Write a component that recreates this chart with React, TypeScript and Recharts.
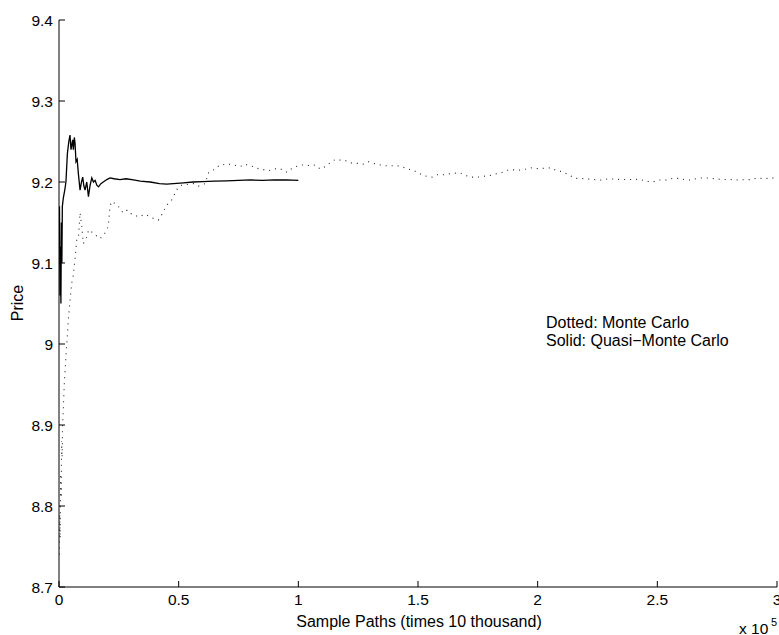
import { LineChart, Line, XAxis, YAxis } from "recharts";

// Monte Carlo estimate (dotted), x in units of 1e5 sample paths
const mcX = [
  0.001, 0.003, 0.005, 0.007, 0.009, 0.011, 0.013, 0.015, 0.018, 0.022, 0.026, 0.03, 0.035, 0.039, 0.045,
  0.053, 0.06, 0.067, 0.074, 0.081, 0.088, 0.095, 0.102, 0.109, 0.116, 0.123, 0.13, 0.14, 0.151, 0.162,
  0.172, 0.182, 0.192, 0.206, 0.213, 0.22, 0.227, 0.238, 0.248, 0.258, 0.269, 0.28, 0.29, 0.3, 0.311,
  0.325, 0.339, 0.353, 0.367, 0.381, 0.395, 0.405, 0.415, 0.43, 0.444, 0.457, 0.471, 0.485, 0.497, 0.512,
  0.535, 0.562, 0.583, 0.611, 0.625, 0.646, 0.663, 0.68, 0.697, 0.715, 0.73, 0.743, 0.757, 0.778, 0.795,
  0.813, 0.827, 0.841, 0.858, 0.876, 0.897, 0.918, 0.935, 0.953, 0.974, 0.99, 1.008, 1.03, 1.05, 1.07,
  1.092, 1.113, 1.134, 1.155, 1.176, 1.204, 1.225, 1.252, 1.273, 1.294, 1.315, 1.343, 1.366, 1.389, 1.413,
  1.434, 1.455, 1.476, 1.497, 1.51, 1.536, 1.559, 1.58, 1.608, 1.629, 1.657, 1.678, 1.699, 1.727, 1.748,
  1.775, 1.8, 1.824, 1.845, 1.873, 1.901, 1.922, 1.95, 1.978, 2.001, 2.029, 2.054, 2.079, 2.105, 2.131,
  2.156, 2.18, 2.208, 2.236, 2.264, 2.292, 2.319, 2.347, 2.375, 2.403, 2.424, 2.452, 2.48, 2.508, 2.536,
  2.564, 2.591, 2.619, 2.64, 2.668, 2.696, 2.724, 2.752, 2.78, 2.808, 2.835, 2.863, 2.891, 2.919, 2.947,
  2.975, 3.0,
];
const mcPrice = [
  8.74, 8.79, 8.76, 8.84, 8.81, 8.88, 8.86, 8.9, 8.92, 8.95, 8.97, 8.99, 9.01, 9.03, 9.05,
  9.075, 9.085, 9.105, 9.128, 9.13, 9.162, 9.145, 9.124, 9.128, 9.132, 9.14, 9.141, 9.137, 9.135, 9.132,
  9.13, 9.134, 9.137, 9.145, 9.17, 9.176, 9.175, 9.172, 9.17, 9.165, 9.162, 9.165, 9.165, 9.161, 9.159,
  9.158, 9.157, 9.16, 9.159, 9.157, 9.155, 9.154, 9.153, 9.16, 9.168, 9.174, 9.178, 9.186, 9.193, 9.196,
  9.197, 9.198, 9.195, 9.198, 9.2115, 9.215, 9.219, 9.222, 9.221, 9.222, 9.221, 9.22, 9.219, 9.222, 9.22,
  9.219, 9.217, 9.216, 9.215, 9.214, 9.216, 9.217, 9.215, 9.212, 9.217, 9.219, 9.221, 9.221, 9.22, 9.221,
  9.216, 9.219, 9.224, 9.228, 9.227, 9.226, 9.223, 9.223, 9.222, 9.225, 9.223, 9.221, 9.22, 9.22, 9.22,
  9.219, 9.216, 9.215, 9.212, 9.21, 9.207, 9.206, 9.209, 9.209, 9.21, 9.211, 9.211, 9.208, 9.206, 9.206,
  9.207, 9.208, 9.21, 9.211, 9.2145, 9.215, 9.2145, 9.216, 9.2177, 9.2165, 9.217, 9.2175, 9.214, 9.2128, 9.2086,
  9.2045, 9.2045, 9.2037, 9.203, 9.2025, 9.2037, 9.2037, 9.203, 9.203, 9.203, 9.2037, 9.201, 9.2, 9.2025, 9.2025,
  9.2045, 9.2045, 9.2025, 9.2025, 9.2045, 9.2053, 9.2045, 9.2037, 9.203, 9.203, 9.2025, 9.2028, 9.203, 9.205, 9.204,
  9.205, 9.2045,
];

// Quasi-Monte Carlo estimate (solid)
const qmcX = [
  0.002, 0.004, 0.006, 0.008, 0.01, 0.012, 0.014, 0.018, 0.024, 0.029, 0.035, 0.041, 0.046, 0.05, 0.053,
  0.057, 0.06, 0.064, 0.067, 0.071, 0.076, 0.081, 0.088, 0.094, 0.099, 0.104, 0.109, 0.116, 0.123, 0.13,
  0.137, 0.144, 0.151, 0.158, 0.165, 0.175, 0.185, 0.2, 0.213, 0.23, 0.255, 0.28, 0.311, 0.34, 0.381,
  0.42, 0.45, 0.478, 0.52, 0.56, 0.6, 0.65, 0.7, 0.75, 0.8, 0.85, 0.9, 0.95, 1.0,
];
const qmcPrice = [
  9.17, 9.06, 9.12, 9.05, 9.15, 9.1, 9.17, 9.18, 9.19, 9.2, 9.235, 9.25, 9.258, 9.24, 9.245,
  9.252, 9.24, 9.255, 9.248, 9.225, 9.228, 9.21, 9.19, 9.2, 9.206, 9.195, 9.19, 9.2, 9.182, 9.196,
  9.205, 9.2, 9.202, 9.196, 9.194, 9.198, 9.2, 9.203, 9.205, 9.204, 9.203, 9.204, 9.2025, 9.201, 9.2,
  9.198, 9.1975, 9.198, 9.199, 9.2, 9.2005, 9.201, 9.2015, 9.202, 9.2025, 9.202, 9.2025, 9.2025, 9.202,
];

const xTicks = [0, 0.5, 1, 1.5, 2, 2.5, 3];
const xTickLabels = ["0", "0.5", "1", "1.5", "2", "2.5", "3"];
const yTicks = [8.7, 8.8, 8.9, 9.0, 9.1, 9.2, 9.3, 9.4];
const yTickLabels = ["8.7", "8.8", "8.9", "9", "9.1", "9.2", "9.3", "9.4"];

const mcData = mcX.map((x, i) => ({ x, price: mcPrice[i] }));
const qmcData = qmcX.map((x, i) => ({ x, price: qmcPrice[i] }));

const W = 779;
const H = 635;
const FONT = "'Liberation Sans', Arial, Helvetica, sans-serif";
const tickStyle = { fill: "#000", fontSize: 15.5, fontFamily: FONT };
const axisLine = { stroke: "#000", strokeWidth: 1 };

export default function App() {
  return (
    <div style={{ position: "absolute", left: 0, top: 0, width: W, height: H, background: "#fff" }}>
      <LineChart width={W} height={H} margin={{ top: 20, right: 2, bottom: 0, left: 0 }}>
        <XAxis
          xAxisId="b"
          dataKey="x"
          type="number"
          domain={[0, 3]}
          ticks={xTicks}
          interval={0}
          allowDataOverflow
          height={48}
          tickSize={-6}
          tickMargin={13}
          tick={tickStyle}
          tickFormatter={(v: number) => xTickLabels[xTicks.indexOf(v)] ?? String(v)}
          axisLine={axisLine}
          tickLine={axisLine}
        />
        <XAxis
          xAxisId="t"
          orientation="top"
          dataKey="x"
          type="number"
          domain={[0, 3]}
          ticks={xTicks}
          interval={0}
          height={0}
          tickSize={-6}
          tick={false}
          axisLine={axisLine}
          tickLine={axisLine}
        />
        <YAxis
          yAxisId="l"
          type="number"
          domain={[8.7, 9.4]}
          ticks={yTicks}
          interval={0}
          allowDataOverflow
          width={59}
          tickSize={-6}
          tickMargin={12}
          tick={tickStyle}
          tickFormatter={(v: number) => yTickLabels[yTicks.indexOf(v)] ?? String(v)}
          axisLine={axisLine}
          tickLine={axisLine}
        />
        <YAxis
          yAxisId="r"
          orientation="right"
          type="number"
          domain={[8.7, 9.4]}
          ticks={yTicks}
          interval={0}
          width={0}
          tickSize={-6}
          tick={false}
          axisLine={axisLine}
          tickLine={axisLine}
        />
        <Line
          xAxisId="b"
          yAxisId="l"
          data={mcData}
          dataKey="price"
          type="linear"
          stroke="#222"
          strokeWidth={1.1}
          strokeDasharray="1 5"
          dot={false}
          activeDot={false}
          isAnimationActive={false}
        />
        <Line
          xAxisId="b"
          yAxisId="l"
          data={qmcData}
          dataKey="price"
          type="linear"
          stroke="#000"
          strokeWidth={1.3}
          dot={false}
          activeDot={false}
          isAnimationActive={false}
        />
      </LineChart>
      <svg
        width={W}
        height={H}
        style={{ position: "absolute", left: 0, top: 0, pointerEvents: "none" }}
        fontFamily={FONT}
        fontSize={16}
        fill="#000"
      >
        <text x={17} y={303} transform="rotate(-90 17 303)" textAnchor="middle" dominantBaseline="central">
          Price
        </text>
        <text x={419} y={627} textAnchor="middle">
          Sample Paths (times 10 thousand)
        </text>
        <text x={739} y={634} fontSize={15.5}>x 10</text>
        <text x={771} y={626} fontSize={11}>5</text>
        <text x={546} y={328}>Dotted: Monte Carlo</text>
        <text x={546} y={346}>Solid: Quasi−Monte Carlo</text>
      </svg>
    </div>
  );
}
